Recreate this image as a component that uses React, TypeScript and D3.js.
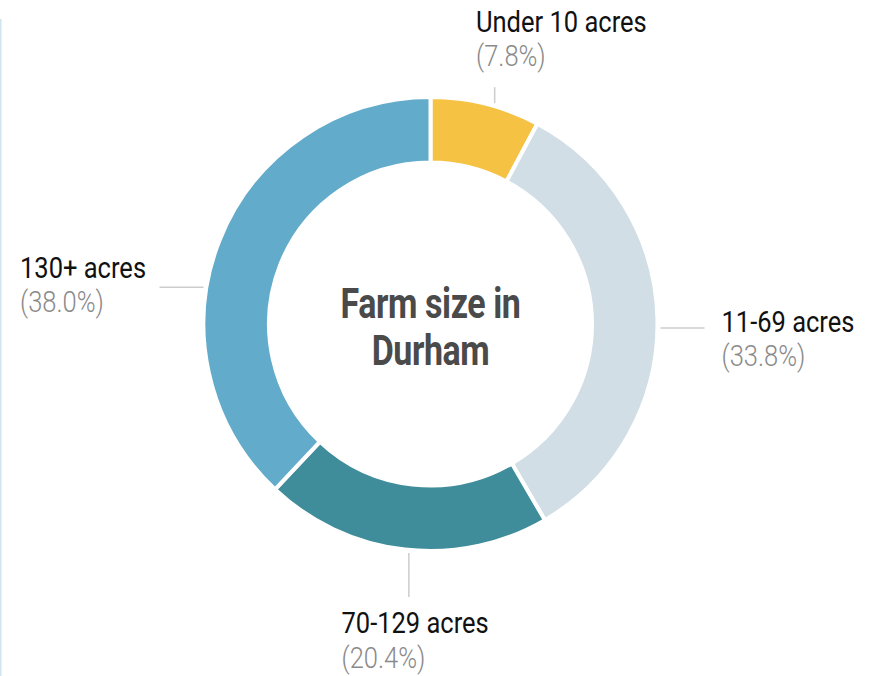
import React from "react";
import * as d3 from "d3";

const categories = ["Under 10 acres", "11-69 acres", "70-129 acres", "130+ acres"];
const shares = [7.8, 33.8, 20.4, 38.0];
const colors = ["#F6C243", "#D1DEE6", "#3F8C9A", "#63ABCA"];
const titleLines = ["Farm size in", "Durham"];

const W = 875;
const H = 676;
const cx = 430.5;
const cy = 324;
const R = 227;
const r = 161.5;

// label layout: leader angle (deg, clockwise from top), text anchor position
const labelLayout = [
  { angle: 16.2, dir: "up", tx: 476, ty: 31.5, anchor: "start" },
  { angle: 91.0, dir: "right", tx: 721.5, ty: 331.5, anchor: "start" },
  { angle: 185.4, dir: "down", tx: 341.5, ty: 633, anchor: "start" },
  { angle: 279.2, dir: "left", tx: 20, ty: 277.5, anchor: "start" },
];

const SX = 0.85;

export default function App() {
  const pie = d3.pie<number>().sort(null).value((d) => d);
  const arcs = pie(shares);
  const arcGen = d3.arc<d3.PieArcDatum<number>>().innerRadius(r).outerRadius(R);

  const leaders = labelLayout.map((l) => {
    const a = (l.angle * Math.PI) / 180;
    const px = cx + (R + 3) * Math.sin(a);
    const py = cy - (R + 3) * Math.cos(a);
    const len = 44;
    let x2 = px, y2 = py;
    if (l.dir === "up") y2 = py - len + 28;
    if (l.dir === "down") y2 = py + len;
    if (l.dir === "right") x2 = px + len;
    if (l.dir === "left") x2 = px - len;
    return { x1: px, y1: py, x2, y2 };
  });

  return (
    <svg
      width={W}
      height={H}
      style={{ position: "absolute", left: 0, top: 0, background: "#fff" }}
    >
      <line x1={0.8} x2={0.8} y1={19} y2={H} stroke="#D3E6EF" strokeWidth={1.6} />
      <g transform={`translate(${cx},${cy})`}>
        {arcs.map((a, i) => (
          <path key={i} d={arcGen(a) || ""} fill={colors[i]} stroke="#fff" strokeWidth={4} />
        ))}
      </g>
      {leaders.map((l, i) => (
        <line key={i} x1={l.x1} y1={l.y1} x2={l.x2} y2={l.y2} stroke="#CCCCCC" strokeWidth={1.5} />
      ))}
      {labelLayout.map((l, i) => (
        <g key={i} transform={`translate(${l.tx},${l.ty}) scale(${SX},1)`}>
          <text
            x={0}
            y={0}
            fontFamily="Roboto, 'Noto Sans', sans-serif"
            fontSize={30}
            fill="#111"
            textAnchor={l.anchor as any}
          >
            {categories[i]}
          </text>
          <text
            x={0}
            y={35}
            fontFamily="Roboto, 'Noto Sans', sans-serif"
            fontSize={30}
            fontWeight={300}
            fill="#8A8A8A"
            textAnchor={l.anchor as any}
          >
            {`(${shares[i].toFixed(1)}%)`}
          </text>
        </g>
      ))}
      {titleLines.map((t, i) => (
        <g key={i} transform={`translate(${cx},${318 + i * 47}) scale(0.79,1)`}>
          <text
            x={0}
            y={0}
            textAnchor="middle"
            fontFamily="Roboto, sans-serif"
            fontWeight={700}
            fontSize={43}
            letterSpacing={-0.5}
            fill="#4A4A4A"
          >
            {t}
          </text>
        </g>
      ))}
    </svg>
  );
}
